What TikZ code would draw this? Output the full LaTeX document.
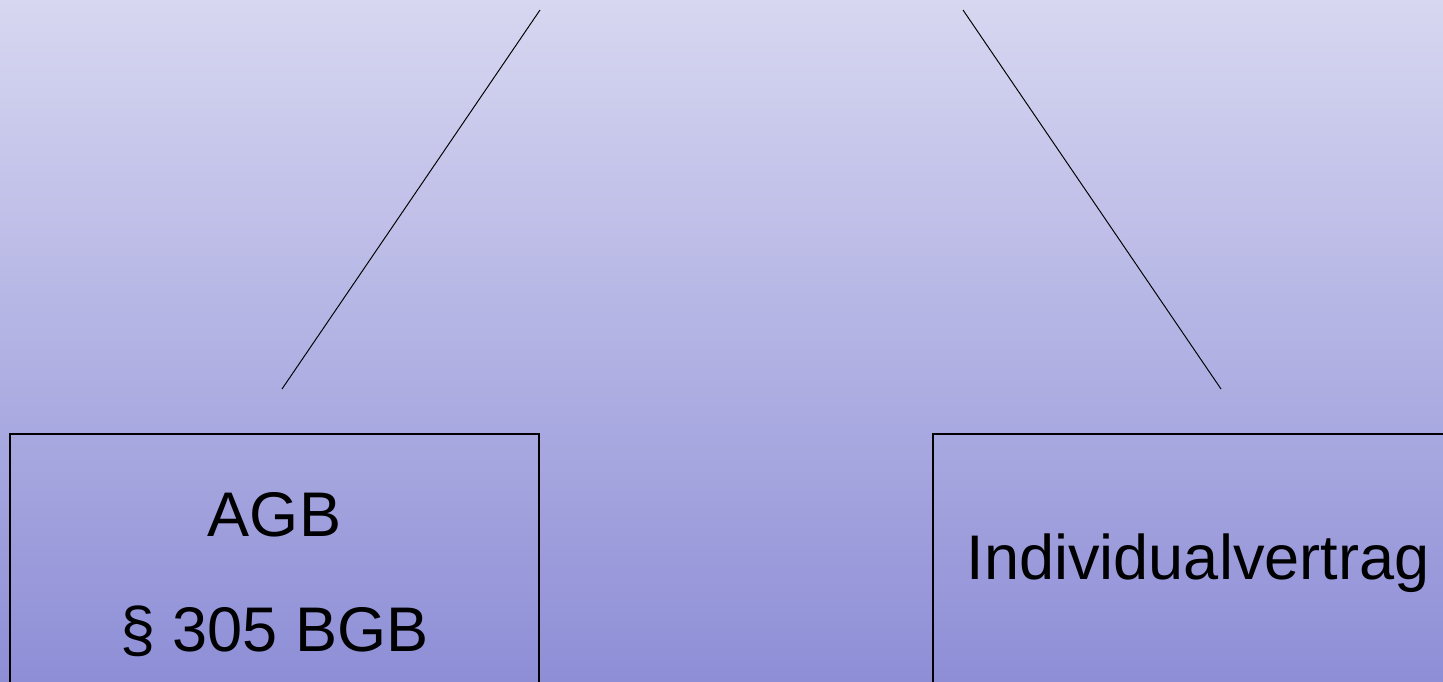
\documentclass[tikz,border=0pt]{standalone}
\usepackage{fontspec}
\setmainfont{Liberation Sans}
\definecolor{bgtop}{HTML}{D7D7F1}
\definecolor{bgbottom}{HTML}{8E8ED7}
\tikzstyle{panel}=[
        draw=black,
        line width=0.8pt,
        align=center,
        inner sep=0pt,
        font=\fontsize{35.9pt}{65.5pt}\selectfont
]
\tikzstyle{branch}=[
        draw=black,
        line width=0.55pt
]

\begin{document}
\begin{tikzpicture}[x=0.02cm,y=-0.02cm]
                        \useasboundingbox (0,0) rectangle (1443,681);
                        \shade[top color=bgtop, bottom color=bgbottom] (0,0) rectangle (1443,681);
                        \clip (0,0) rectangle (1443,681);

                        \node[panel, minimum width=10.58cm, minimum height=5.64cm] (agb) at (274.5,575) {AGB\\\S\ 305 BGB};
                        \node[panel, minimum width=10.6cm, minimum height=5.16cm] (indiv) at (1198,563) {Individualvertrag};

                        \coordinate (topL) at (540,10);
                        \coordinate (lowL) at (282,389);
                        \coordinate (topR) at (963,10);
                        \coordinate (lowR) at (1221,389);

                        \draw[branch] (topL) -- (lowL);
                        \draw[branch] (topR) -- (lowR);

                    \end{tikzpicture}
\end{document}
